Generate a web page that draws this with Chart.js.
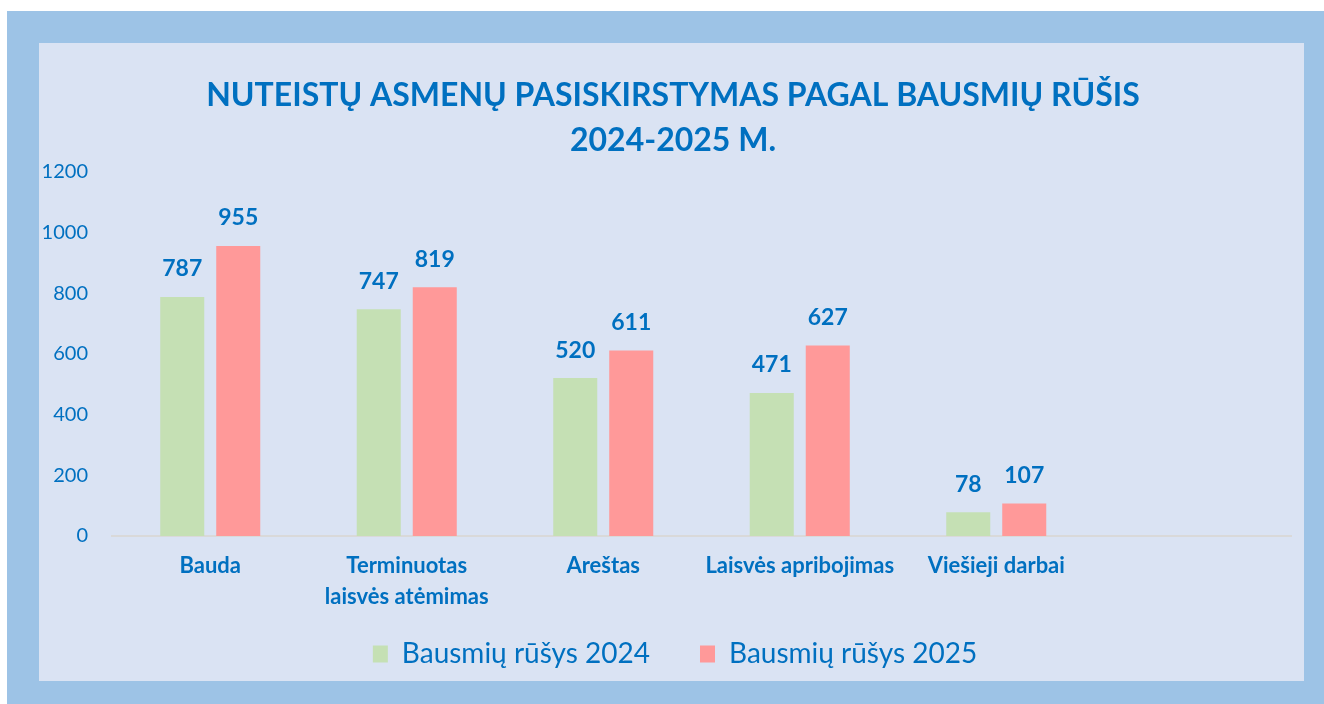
<!DOCTYPE html>
<html lang="lt">
<head>
<meta charset="utf-8">
<title>Nuteistų asmenų pasiskirstymas</title>
<script src="https://cdn.jsdelivr.net/npm/chart.js@4/dist/chart.umd.min.js"></script>
<style>
  body { margin: 0; background: #fff; }
  #frame { position: absolute; left: 7px; top: 11px; width: 1317px; height: 693px; background: #9dc3e6; }
  #panel { position: absolute; left: 39px; top: 43px; width: 1265px; height: 638px; background: #dae3f3; }
</style>
</head>
<body>
<div id="frame"></div>
<div id="panel"><canvas id="chart"></canvas></div>
<script>
const CATEGORIES = ['Bauda', ['Terminuotas', 'laisvės atėmimas'], 'Areštas', 'Laisvės apribojimas', 'Viešieji darbai', ''];
const VALUES_2024 = [787, 747, 520, 471, 78, null];
const VALUES_2025 = [955, 819, 611, 627, 107, null];
const SERIES_NAMES = ['Bausmių rūšys 2024', 'Bausmių rūšys 2025'];
const TITLE_LINES = ['NUTEISTŲ ASMENŲ PASISKIRSTYMAS PAGAL BAUSMIŲ RŪŠIS', '2024-2025 M.'];

const BLUE = '#0070c0';
const FONT = 'Lato, "Noto Sans", sans-serif';

// values above the bars
const valueLabels = {
  id: 'valueLabels',
  afterDatasetsDraw(chart) {
    const { ctx } = chart;
    ctx.save();
    ctx.font = `bold 23px ${FONT}`;
    ctx.fillStyle = BLUE;
    ctx.textAlign = 'center';
    ctx.textBaseline = 'middle';
    chart.data.datasets.forEach((ds, i) => {
      chart.getDatasetMeta(i).data.forEach((bar, j) => {
        if (ds.data[j] == null) return;
        ctx.fillText(ds.data[j], bar.x, bar.y - 28);
      });
    });
    ctx.restore();
  },
};

// title and legend sit a bit right of the canvas centre in the original,
// and the legend is pulled up so its wide item spacing fits
const nudge = {
  id: 'nudge',
  afterLayout(chart) {
    chart.titleBlock.left += 8;
    chart.titleBlock.right += 8;
    chart.legend.left += 10;
    chart.legend.right += 10;
    chart.legend.top -= 14;
    chart.legend.bottom -= 14;
  },
};

new Chart(document.querySelector('#chart'), {
  type: 'bar',
  data: {
    labels: CATEGORIES,
    datasets: [
      { label: SERIES_NAMES[0], data: VALUES_2024, backgroundColor: '#c5e0b4' },
      { label: SERIES_NAMES[1], data: VALUES_2025, backgroundColor: '#ff9999' },
    ],
  },
  options: {
    responsive: true,
    maintainAspectRatio: false,
    animation: false,
    categoryPercentage: 0.57,
    barPercentage: 0.786,
    layout: { padding: { left: 0, right: 13, bottom: -11 } },
    plugins: {
      title: {
        display: true,
        text: TITLE_LINES,
        color: BLUE,
        font: { family: FONT, size: 32, weight: 'bold', lineHeight: 1.4 },
        padding: { top: 30, bottom: 9 },
      },
      legend: {
        position: 'bottom',
        labels: {
          color: BLUE,
          font: { family: FONT, size: 28 },
          boxWidth: 15,
          boxHeight: 17,
          padding: 50,
        },
      },
      tooltip: { enabled: false },
    },
    scales: {
      x: {
        grid: { display: false, drawTicks: false },
        border: { display: true, color: '#d9d9d9', width: 2 },
        ticks: {
          color: BLUE,
          font: { family: FONT, size: 22, weight: 'bold', lineHeight: 1.4 },
          padding: 15,
          maxRotation: 0,
          autoSkip: false,
        },
        afterFit: (scale) => { scale.height = 68; },
      },
      y: {
        min: 0,
        max: 1200,
        grid: { display: false, drawTicks: false },
        border: { display: false },
        ticks: {
          stepSize: 200,
          color: BLUE,
          font: { family: FONT, size: 20 },
          padding: 24,
          callback: (value) => String(value),
        },
        afterFit: (scale) => { scale.width = 73; },
      },
    },
  },
  plugins: [valueLabels, nudge],
});
</script>
</body>
</html>
